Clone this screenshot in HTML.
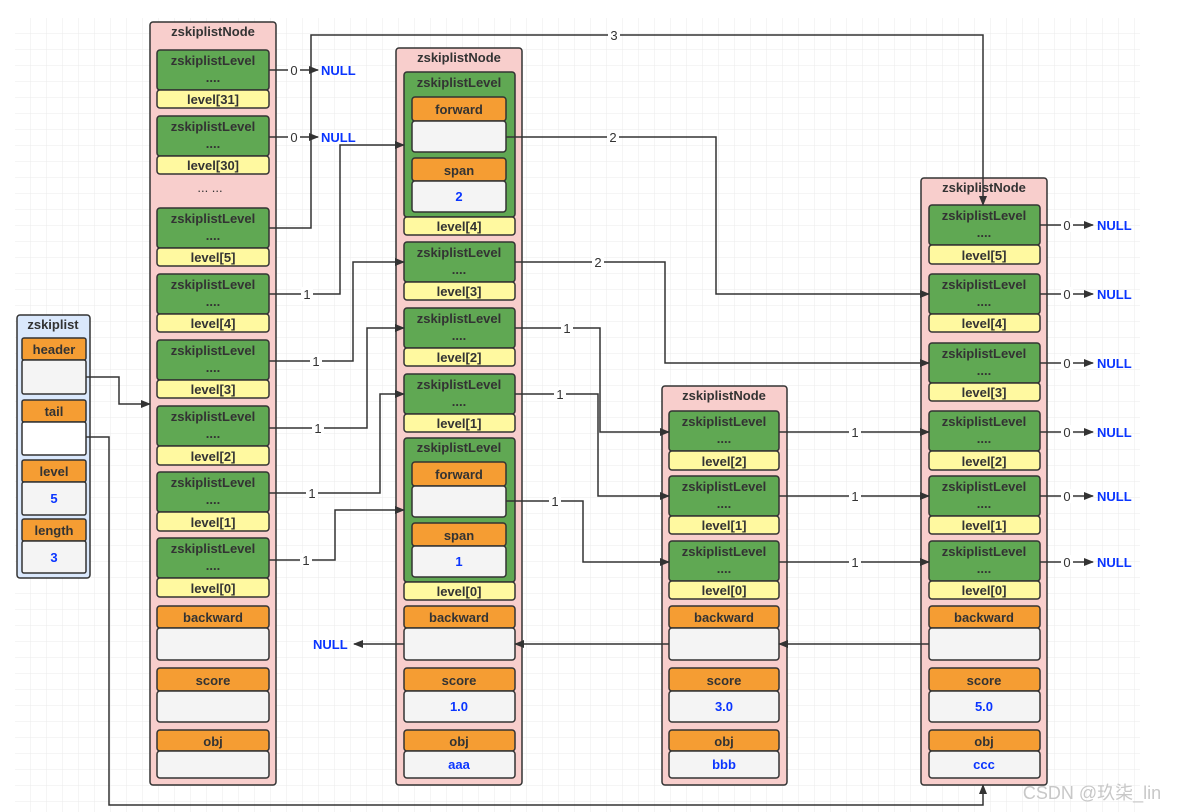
<!DOCTYPE html>
<html><head><meta charset="utf-8"><style>
html,body{margin:0;padding:0;background:#fff;}
svg{display:block;font-family:"Liberation Sans",Arial,sans-serif;}
.node{fill:#f8cecc;stroke:#333;stroke-width:1.5;}
.sl{fill:#dae8fc;stroke:#333;stroke-width:1.5;}
.g{fill:#60a853;stroke:#333;stroke-width:1.5;}
.y{fill:#fff9a0;stroke:#333;stroke-width:1.5;}
.o{fill:#f59d33;stroke:#333;stroke-width:1.5;}
.w{fill:#f4f4f4;stroke:#333;stroke-width:1.5;}
.ww{fill:#fff;stroke:#333;stroke-width:1.5;}
text{font-weight:bold;font-size:13px;fill:#333;text-anchor:middle;}
.b{fill:#0a35ff;}
.nl{fill:#0a35ff;text-anchor:start;}
.lb{font-weight:normal;fill:#333;}
.ln{fill:none;stroke:#333;stroke-width:1.5;}
.lab{fill:#fff;}
</style></head><body>
<svg width="1179" height="812" viewBox="0 0 1179 812">
<defs>
<pattern id="gr" x="15" y="18" width="16" height="16" patternUnits="userSpaceOnUse">
<path d="M16 0V16M0 16H16" fill="none" stroke="#ebebeb" stroke-width="1"/>
</pattern>
<marker id="ar" markerWidth="10" markerHeight="10" refX="9" refY="5" orient="auto" markerUnits="userSpaceOnUse">
<path d="M0 1L10 5L0 9Z" fill="#333"/>
</marker>
</defs>
<rect x="15" y="18" width="1125" height="794" fill="url(#gr)"/>

<!-- zskiplist -->
<rect class="sl" x="17" y="315" width="73" height="263" rx="3"/>
<text x="53" y="329">zskiplist</text>
<rect class="o" x="22" y="338" width="64" height="22" rx="2"/><text x="54" y="354">header</text>
<rect class="w" x="22" y="360" width="64" height="34" rx="2"/>
<rect class="o" x="22" y="400" width="64" height="22" rx="2"/><text x="54" y="416">tail</text>
<rect class="ww" x="22" y="422" width="64" height="33" rx="2"/>
<rect class="o" x="22" y="460" width="64" height="22" rx="2"/><text x="54" y="476">level</text>
<rect class="w" x="22" y="482" width="64" height="33" rx="2"/><text class="b" x="54" y="503">5</text>
<rect class="o" x="22" y="519" width="64" height="22" rx="2"/><text x="54" y="535">length</text>
<rect class="w" x="22" y="541" width="64" height="32" rx="2"/><text class="b" x="54" y="562">3</text>

<!-- Node A -->
<rect class="node" x="150" y="22" width="126" height="763" rx="3"/>
<text x="213" y="36">zskiplistNode</text>
<g>
<rect class="g" x="157" y="50" width="112" height="40" rx="3"/><text x="213" y="65">zskiplistLevel</text><text x="213" y="82">....</text>
<rect class="y" x="157" y="90" width="112" height="18" rx="3"/><text x="213" y="104">level[31]</text>
<rect class="g" x="157" y="116" width="112" height="40" rx="3"/><text x="213" y="131">zskiplistLevel</text><text x="213" y="148">....</text>
<rect class="y" x="157" y="156" width="112" height="18" rx="3"/><text x="213" y="170">level[30]</text>
<text class="lb" x="210" y="192">... ...</text>
<rect class="g" x="157" y="208" width="112" height="40" rx="3"/><text x="213" y="223">zskiplistLevel</text><text x="213" y="240">....</text>
<rect class="y" x="157" y="248" width="112" height="18" rx="3"/><text x="213" y="262">level[5]</text>
<rect class="g" x="157" y="274" width="112" height="40" rx="3"/><text x="213" y="289">zskiplistLevel</text><text x="213" y="306">....</text>
<rect class="y" x="157" y="314" width="112" height="18" rx="3"/><text x="213" y="328">level[4]</text>
<rect class="g" x="157" y="340" width="112" height="40" rx="3"/><text x="213" y="355">zskiplistLevel</text><text x="213" y="372">....</text>
<rect class="y" x="157" y="380" width="112" height="18" rx="3"/><text x="213" y="394">level[3]</text>
<rect class="g" x="157" y="406" width="112" height="40" rx="3"/><text x="213" y="421">zskiplistLevel</text><text x="213" y="438">....</text>
<rect class="y" x="157" y="446" width="112" height="19" rx="3"/><text x="213" y="461">level[2]</text>
<rect class="g" x="157" y="472" width="112" height="40" rx="3"/><text x="213" y="487">zskiplistLevel</text><text x="213" y="504">....</text>
<rect class="y" x="157" y="512" width="112" height="19" rx="3"/><text x="213" y="527">level[1]</text>
<rect class="g" x="157" y="538" width="112" height="40" rx="3"/><text x="213" y="553">zskiplistLevel</text><text x="213" y="570">....</text>
<rect class="y" x="157" y="578" width="112" height="19" rx="3"/><text x="213" y="593">level[0]</text>
<rect class="o" x="157" y="606" width="112" height="22" rx="3"/><text x="213" y="622">backward</text>
<rect class="w" x="157" y="628" width="112" height="32" rx="3"/>
<rect class="o" x="157" y="668" width="112" height="23" rx="3"/><text x="213" y="685">score</text>
<rect class="w" x="157" y="691" width="112" height="31" rx="3"/>
<rect class="o" x="157" y="730" width="112" height="21" rx="3"/><text x="213" y="746">obj</text>
<rect class="w" x="157" y="751" width="112" height="27" rx="3"/>
</g>

<!-- Node B -->
<rect class="node" x="396" y="48" width="126" height="737" rx="3"/>
<text x="459" y="62">zskiplistNode</text>
<rect class="g" x="404" y="72" width="111" height="145" rx="3"/><text x="459" y="87">zskiplistLevel</text>
<rect class="o" x="412" y="97" width="94" height="24" rx="3"/><text x="459" y="114">forward</text>
<rect class="w" x="412" y="121" width="94" height="31" rx="3"/>
<rect class="o" x="412" y="158" width="94" height="23" rx="3"/><text x="459" y="175">span</text>
<rect class="w" x="412" y="181" width="94" height="31" rx="3"/><text class="b" x="459" y="201">2</text>
<rect class="y" x="404" y="217" width="111" height="18" rx="3"/><text x="459" y="231">level[4]</text>
<rect class="g" x="404" y="242" width="111" height="40" rx="3"/><text x="459" y="257">zskiplistLevel</text><text x="459" y="274">....</text>
<rect class="y" x="404" y="282" width="111" height="18" rx="3"/><text x="459" y="296">level[3]</text>
<rect class="g" x="404" y="308" width="111" height="40" rx="3"/><text x="459" y="323">zskiplistLevel</text><text x="459" y="340">....</text>
<rect class="y" x="404" y="348" width="111" height="18" rx="3"/><text x="459" y="362">level[2]</text>
<rect class="g" x="404" y="374" width="111" height="40" rx="3"/><text x="459" y="389">zskiplistLevel</text><text x="459" y="406">....</text>
<rect class="y" x="404" y="414" width="111" height="18" rx="3"/><text x="459" y="428">level[1]</text>
<rect class="g" x="404" y="438" width="111" height="144" rx="3"/><text x="459" y="452">zskiplistLevel</text>
<rect class="o" x="412" y="462" width="94" height="24" rx="3"/><text x="459" y="479">forward</text>
<rect class="w" x="412" y="486" width="94" height="31" rx="3"/>
<rect class="o" x="412" y="523" width="94" height="23" rx="3"/><text x="459" y="540">span</text>
<rect class="w" x="412" y="546" width="94" height="31" rx="3"/><text class="b" x="459" y="566">1</text>
<rect class="y" x="404" y="582" width="111" height="18" rx="3"/><text x="459" y="596">level[0]</text>
<rect class="o" x="404" y="606" width="111" height="22" rx="3"/><text x="459" y="622">backward</text>
<rect class="w" x="404" y="628" width="111" height="32" rx="3"/>
<rect class="o" x="404" y="668" width="111" height="23" rx="3"/><text x="459" y="685">score</text>
<rect class="w" x="404" y="691" width="111" height="31" rx="3"/><text class="b" x="459" y="711">1.0</text>
<rect class="o" x="404" y="730" width="111" height="21" rx="3"/><text x="459" y="746">obj</text>
<rect class="w" x="404" y="751" width="111" height="27" rx="3"/><text class="b" x="459" y="769">aaa</text>

<!-- Node C -->
<rect class="node" x="662" y="386" width="125" height="399" rx="3"/>
<text x="724" y="400">zskiplistNode</text>
<rect class="g" x="669" y="411" width="110" height="40" rx="3"/><text x="724" y="426">zskiplistLevel</text><text x="724" y="443">....</text>
<rect class="y" x="669" y="451" width="110" height="19" rx="3"/><text x="724" y="466">level[2]</text>
<rect class="g" x="669" y="476" width="110" height="40" rx="3"/><text x="724" y="491">zskiplistLevel</text><text x="724" y="508">....</text>
<rect class="y" x="669" y="516" width="110" height="18" rx="3"/><text x="724" y="530">level[1]</text>
<rect class="g" x="669" y="541" width="110" height="40" rx="3"/><text x="724" y="556">zskiplistLevel</text><text x="724" y="573">....</text>
<rect class="y" x="669" y="581" width="110" height="18" rx="3"/><text x="724" y="595">level[0]</text>
<rect class="o" x="669" y="606" width="110" height="22" rx="3"/><text x="724" y="622">backward</text>
<rect class="w" x="669" y="628" width="110" height="32" rx="3"/>
<rect class="o" x="669" y="668" width="110" height="23" rx="3"/><text x="724" y="685">score</text>
<rect class="w" x="669" y="691" width="110" height="31" rx="3"/><text class="b" x="724" y="711">3.0</text>
<rect class="o" x="669" y="730" width="110" height="21" rx="3"/><text x="724" y="746">obj</text>
<rect class="w" x="669" y="751" width="110" height="27" rx="3"/><text class="b" x="724" y="769">bbb</text>

<!-- Node D -->
<rect class="node" x="921" y="178" width="126" height="607" rx="3"/>
<text x="984" y="192">zskiplistNode</text>
<rect class="g" x="929" y="205" width="111" height="40" rx="3"/><text x="984" y="220">zskiplistLevel</text><text x="984" y="237">....</text>
<rect class="y" x="929" y="245" width="111" height="19" rx="3"/><text x="984" y="260">level[5]</text>
<rect class="g" x="929" y="274" width="111" height="40" rx="3"/><text x="984" y="289">zskiplistLevel</text><text x="984" y="306">....</text>
<rect class="y" x="929" y="314" width="111" height="18" rx="3"/><text x="984" y="328">level[4]</text>
<rect class="g" x="929" y="343" width="111" height="40" rx="3"/><text x="984" y="358">zskiplistLevel</text><text x="984" y="375">....</text>
<rect class="y" x="929" y="383" width="111" height="18" rx="3"/><text x="984" y="397">level[3]</text>
<rect class="g" x="929" y="411" width="111" height="40" rx="3"/><text x="984" y="426">zskiplistLevel</text><text x="984" y="443">....</text>
<rect class="y" x="929" y="451" width="111" height="19" rx="3"/><text x="984" y="466">level[2]</text>
<rect class="g" x="929" y="476" width="111" height="40" rx="3"/><text x="984" y="491">zskiplistLevel</text><text x="984" y="508">....</text>
<rect class="y" x="929" y="516" width="111" height="18" rx="3"/><text x="984" y="530">level[1]</text>
<rect class="g" x="929" y="541" width="111" height="40" rx="3"/><text x="984" y="556">zskiplistLevel</text><text x="984" y="573">....</text>
<rect class="y" x="929" y="581" width="111" height="18" rx="3"/><text x="984" y="595">level[0]</text>
<rect class="o" x="929" y="606" width="111" height="22" rx="3"/><text x="984" y="622">backward</text>
<rect class="w" x="929" y="628" width="111" height="32" rx="3"/>
<rect class="o" x="929" y="668" width="111" height="23" rx="3"/><text x="984" y="685">score</text>
<rect class="w" x="929" y="691" width="111" height="31" rx="3"/><text class="b" x="984" y="711">5.0</text>
<rect class="o" x="929" y="730" width="111" height="21" rx="3"/><text x="984" y="746">obj</text>
<rect class="w" x="929" y="751" width="111" height="27" rx="3"/><text class="b" x="984" y="769">ccc</text>

<!-- connectors (on top) -->
<g class="ln" marker-end="url(#ar)">
<path d="M269 70H318"/><path d="M269 137H318"/>
<path d="M269 228H311V35H983V205"/>
<path d="M269 294H340V145H404"/>
<path d="M269 361H353V262H404"/>
<path d="M269 428H367V328H404"/>
<path d="M269 493H380V394H404"/>
<path d="M269 560H335V510H404"/>
<path d="M506 137H716V294H929"/>
<path d="M515 262H665V363H929"/>
<path d="M515 328H600V432H669"/>
<path d="M515 394H598V496H669"/>
<path d="M506 501H583V562H669"/>
<path d="M779 432H929"/><path d="M779 496H929"/><path d="M779 562H929"/>
<path d="M1040 225H1093"/><path d="M1040 294H1093"/><path d="M1040 363H1093"/>
<path d="M1040 432H1093"/><path d="M1040 496H1093"/><path d="M1040 562H1093"/>
<path d="M404 644H354"/><path d="M669 644H515"/><path d="M929 644H779"/>
<path d="M86 377H119V404H150"/>
<path d="M86 437H109V805H983V785"/>
</g>
<g>
<rect class="lab" x="288" y="63" width="12" height="14"/><text class="lb" x="294" y="75">0</text>
<rect class="lab" x="288" y="130" width="12" height="14"/><text class="lb" x="294" y="142">0</text>
<rect class="lab" x="608" y="28" width="12" height="14"/><text class="lb" x="614" y="40">3</text>
<rect class="lab" x="301" y="287" width="12" height="14"/><text class="lb" x="307" y="299">1</text>
<rect class="lab" x="310" y="354" width="12" height="14"/><text class="lb" x="316" y="366">1</text>
<rect class="lab" x="312" y="421" width="12" height="14"/><text class="lb" x="318" y="433">1</text>
<rect class="lab" x="306" y="486" width="12" height="14"/><text class="lb" x="312" y="498">1</text>
<rect class="lab" x="300" y="553" width="12" height="14"/><text class="lb" x="306" y="565">1</text>
<rect class="lab" x="607" y="130" width="12" height="14"/><text class="lb" x="613" y="142">2</text>
<rect class="lab" x="592" y="255" width="12" height="14"/><text class="lb" x="598" y="267">2</text>
<rect class="lab" x="561" y="321" width="12" height="14"/><text class="lb" x="567" y="333">1</text>
<rect class="lab" x="554" y="387" width="12" height="14"/><text class="lb" x="560" y="399">1</text>
<rect class="lab" x="549" y="494" width="12" height="14"/><text class="lb" x="555" y="506">1</text>
<rect class="lab" x="849" y="425" width="12" height="14"/><text class="lb" x="855" y="437">1</text>
<rect class="lab" x="849" y="489" width="12" height="14"/><text class="lb" x="855" y="501">1</text>
<rect class="lab" x="849" y="555" width="12" height="14"/><text class="lb" x="855" y="567">1</text>
<rect class="lab" x="1061" y="218" width="12" height="14"/><text class="lb" x="1067" y="230">0</text>
<rect class="lab" x="1061" y="287" width="12" height="14"/><text class="lb" x="1067" y="299">0</text>
<rect class="lab" x="1061" y="356" width="12" height="14"/><text class="lb" x="1067" y="368">0</text>
<rect class="lab" x="1061" y="425" width="12" height="14"/><text class="lb" x="1067" y="437">0</text>
<rect class="lab" x="1061" y="489" width="12" height="14"/><text class="lb" x="1067" y="501">0</text>
<rect class="lab" x="1061" y="555" width="12" height="14"/><text class="lb" x="1067" y="567">0</text>
</g>
<text class="nl" x="321" y="75">NULL</text>
<text class="nl" x="321" y="142">NULL</text>
<text class="nl" x="313" y="649">NULL</text>
<text class="nl" x="1097" y="230">NULL</text>
<text class="nl" x="1097" y="299">NULL</text>
<text class="nl" x="1097" y="368">NULL</text>
<text class="nl" x="1097" y="437">NULL</text>
<text class="nl" x="1097" y="501">NULL</text>
<text class="nl" x="1097" y="567">NULL</text>

<text x="1092" y="799" style="font-weight:normal;font-size:18px;fill:#c8c8c8;font-family:'Liberation Sans','Noto Sans CJK SC',sans-serif;">CSDN @玖柒_lin</text>
</svg>
</body></html>
